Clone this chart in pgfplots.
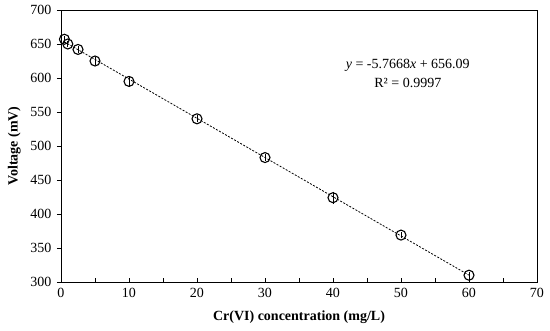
\documentclass[border=0pt]{standalone}
\usepackage{fontspec}
\setmainfont{Liberation Serif}
\usepackage{pgfplots}
\pgfplotsset{compat=1.18}
\begin{document}
\begin{tikzpicture}
\begin{axis}[
  scale only axis,
  width=476pt, height=272pt,
  xmin=0, xmax=70, ymin=300, ymax=700,
  xtick={0,10,...,70}, ytick={300,350,...,700},
  minor xtick={5,15,...,65},
  axis line style={line width=0.9pt},
  xtick pos=bottom, ytick pos=left,
  xtick align=inside, ytick align=outside,
  major tick length=4pt, minor tick length=4pt,
  tick style={black, line width=0.8pt},
  /pgf/number format/assume math mode=true,
  ticklabel style={font=\fontsize{14}{16}\selectfont},
  xticklabel style={yshift=-3pt},
  yticklabel style={xshift=-2pt},
  xlabel={\textbf{Cr(VI) concentration (mg/L)}},
  ylabel={\textbf{Voltage (mV)}},
  label style={font=\fontsize{14}{16}\selectfont},
  xlabel style={yshift=-6pt},
  ylabel style={yshift=3pt},
  clip=false,
]
\addplot[black, line width=0.8pt, dash pattern=on 2pt off 1.5pt]
  coordinates {(0.5,653.2) (60,310.08)};
\addplot[only marks, mark=o, mark size=5pt, black, mark options={line width=1.1pt},
  error bars/.cd, y dir=both, y explicit, error mark options={mark size=2pt, line width=0.8pt},
  error bar style={line width=0.8pt}]
  coordinates {
  (0.5,657) +- (0,2)
  (1,650) +- (0,2)
  (2.5,642) +- (0,2)
  (5,625) +- (0,3)
  (10,595) +- (0,5)
  (20,540) +- (0,2)
  (30,483) +- (0,2)
  (40,424) +- (0,6)
  (50,369) +- (0,1.5)
  (60,310) +- (0,2)
  };
\node[font=\fontsize{14}{16}\selectfont] at (axis cs:51,619) {\textit{y} = -5.7668\textit{x} + 656.09};
\node[font=\fontsize{14}{16}\selectfont] at (axis cs:51,592.7) {R² = 0.9997};
\end{axis}
\pgfresetboundingbox
\path[use as bounding box] (-61pt,-48pt) rectangle (489pt,282pt);
\end{tikzpicture}
\end{document}
